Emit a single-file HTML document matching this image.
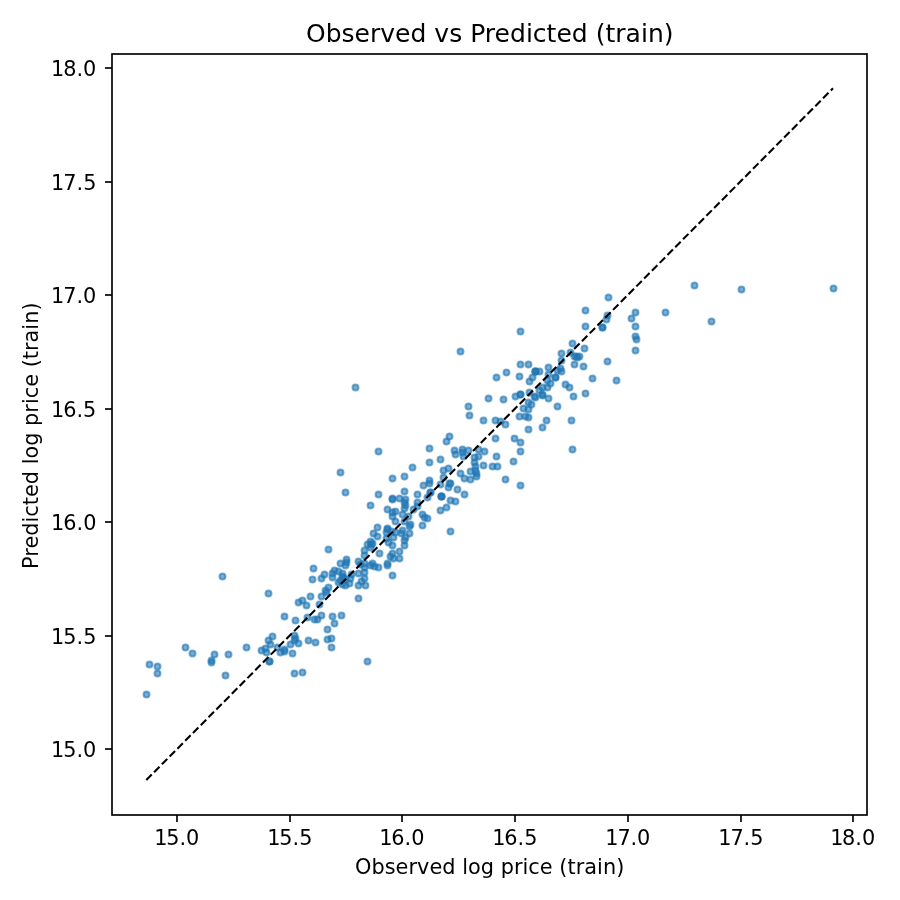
<!DOCTYPE html>
<html lang="en"><head><meta charset="utf-8"><title>Observed vs Predicted (train)</title>
<style>html,body{margin:0;padding:0;background:#fff;}body{width:900px;height:900px;overflow:hidden;}svg{display:block;}text{font-family:"DejaVu Sans","Liberation Sans",sans-serif;fill:#000;}.t{font-size:20.8333px;}.pt circle{fill:#1f77b4;fill-opacity:.6;stroke:#1f77b4;stroke-opacity:.6;stroke-width:2.083;}</style></head><body>
<svg width="900" height="900" viewBox="0 0 900 900">
<rect width="900" height="900" fill="#fff"/>
<g class="pt">
<circle cx="146.5" cy="694.5" r="2.946"/>
<circle cx="149.5" cy="664.5" r="2.946"/>
<circle cx="157.5" cy="666.5" r="2.946"/>
<circle cx="157.5" cy="673.5" r="2.946"/>
<circle cx="185.5" cy="647.5" r="2.946"/>
<circle cx="192.5" cy="653.5" r="2.946"/>
<circle cx="214.5" cy="654.5" r="2.946"/>
<circle cx="211.5" cy="660.5" r="2.946"/>
<circle cx="211.5" cy="662.5" r="2.946"/>
<circle cx="228.5" cy="654.5" r="2.946"/>
<circle cx="225.5" cy="675.5" r="2.946"/>
<circle cx="246.5" cy="647.5" r="2.946"/>
<circle cx="272.5" cy="636.5" r="2.946"/>
<circle cx="268.5" cy="640.5" r="2.946"/>
<circle cx="270.5" cy="644.5" r="2.946"/>
<circle cx="265.5" cy="648.5" r="2.946"/>
<circle cx="261.5" cy="650.5" r="2.946"/>
<circle cx="266.5" cy="652.5" r="2.946"/>
<circle cx="277.5" cy="647.5" r="2.946"/>
<circle cx="280.5" cy="652.5" r="2.946"/>
<circle cx="284.5" cy="649.5" r="2.946"/>
<circle cx="284.5" cy="651.5" r="2.946"/>
<circle cx="269.5" cy="661.5" r="2.946"/>
<circle cx="269.5" cy="661.5" r="2.946"/>
<circle cx="290.5" cy="644.5" r="2.946"/>
<circle cx="292.5" cy="653.5" r="2.946"/>
<circle cx="294.5" cy="635.5" r="2.946"/>
<circle cx="295.5" cy="638.5" r="2.946"/>
<circle cx="294.5" cy="640.5" r="2.946"/>
<circle cx="298.5" cy="643.5" r="2.946"/>
<circle cx="308.5" cy="640.5" r="2.946"/>
<circle cx="315.5" cy="642.5" r="2.946"/>
<circle cx="294.5" cy="673.5" r="2.946"/>
<circle cx="302.5" cy="672.5" r="2.946"/>
<circle cx="284.5" cy="616.5" r="2.946"/>
<circle cx="295.5" cy="620.5" r="2.946"/>
<circle cx="307.5" cy="617.5" r="2.946"/>
<circle cx="314.5" cy="619.5" r="2.946"/>
<circle cx="317.5" cy="619.5" r="2.946"/>
<circle cx="321.5" cy="615.5" r="2.946"/>
<circle cx="327.5" cy="629.5" r="2.946"/>
<circle cx="327.5" cy="639.5" r="2.946"/>
<circle cx="331.5" cy="647.5" r="2.946"/>
<circle cx="298.5" cy="602.5" r="2.946"/>
<circle cx="302.5" cy="600.5" r="2.946"/>
<circle cx="306.5" cy="605.5" r="2.946"/>
<circle cx="319.5" cy="604.5" r="2.946"/>
<circle cx="334.5" cy="623.5" r="2.946"/>
<circle cx="331.5" cy="638.5" r="2.946"/>
<circle cx="328.5" cy="549.5" r="2.946"/>
<circle cx="313.5" cy="568.5" r="2.946"/>
<circle cx="312.5" cy="579.5" r="2.946"/>
<circle cx="321.5" cy="578.5" r="2.946"/>
<circle cx="324.5" cy="574.5" r="2.946"/>
<circle cx="310.5" cy="596.5" r="2.946"/>
<circle cx="321.5" cy="596.5" r="2.946"/>
<circle cx="325.5" cy="590.5" r="2.946"/>
<circle cx="328.5" cy="587.5" r="2.946"/>
<circle cx="326.5" cy="592.5" r="2.946"/>
<circle cx="332.5" cy="616.5" r="2.946"/>
<circle cx="341.5" cy="615.5" r="2.946"/>
<circle cx="358.5" cy="598.5" r="2.946"/>
<circle cx="340.5" cy="563.5" r="2.946"/>
<circle cx="346.5" cy="559.5" r="2.946"/>
<circle cx="346.5" cy="562.5" r="2.946"/>
<circle cx="345.5" cy="565.5" r="2.946"/>
<circle cx="334.5" cy="570.5" r="2.946"/>
<circle cx="332.5" cy="573.5" r="2.946"/>
<circle cx="332.5" cy="577.5" r="2.946"/>
<circle cx="338.5" cy="571.5" r="2.946"/>
<circle cx="342.5" cy="573.5" r="2.946"/>
<circle cx="340.5" cy="580.5" r="2.946"/>
<circle cx="338.5" cy="582.5" r="2.946"/>
<circle cx="343.5" cy="577.5" r="2.946"/>
<circle cx="345.5" cy="585.5" r="2.946"/>
<circle cx="349.5" cy="583.5" r="2.946"/>
<circle cx="350.5" cy="578.5" r="2.946"/>
<circle cx="351.5" cy="574.5" r="2.946"/>
<circle cx="342.5" cy="584.5" r="2.946"/>
<circle cx="358.5" cy="573.5" r="2.946"/>
<circle cx="364.5" cy="572.5" r="2.946"/>
<circle cx="364.5" cy="578.5" r="2.946"/>
<circle cx="361.5" cy="581.5" r="2.946"/>
<circle cx="358.5" cy="585.5" r="2.946"/>
<circle cx="365.5" cy="585.5" r="2.946"/>
<circle cx="358.5" cy="561.5" r="2.946"/>
<circle cx="360.5" cy="564.5" r="2.946"/>
<circle cx="364.5" cy="567.5" r="2.946"/>
<circle cx="364.5" cy="563.5" r="2.946"/>
<circle cx="372.5" cy="563.5" r="2.946"/>
<circle cx="374.5" cy="566.5" r="2.946"/>
<circle cx="378.5" cy="567.5" r="2.946"/>
<circle cx="370.5" cy="565.5" r="2.946"/>
<circle cx="364.5" cy="550.5" r="2.946"/>
<circle cx="364.5" cy="555.5" r="2.946"/>
<circle cx="379.5" cy="553.5" r="2.946"/>
<circle cx="367.5" cy="544.5" r="2.946"/>
<circle cx="370.5" cy="541.5" r="2.946"/>
<circle cx="371.5" cy="544.5" r="2.946"/>
<circle cx="370.5" cy="547.5" r="2.946"/>
<circle cx="370.5" cy="505.5" r="2.946"/>
<circle cx="378.5" cy="494.5" r="2.946"/>
<circle cx="392.5" cy="478.5" r="2.946"/>
<circle cx="404.5" cy="476.5" r="2.946"/>
<circle cx="412.5" cy="467.5" r="2.946"/>
<circle cx="429.5" cy="462.5" r="2.946"/>
<circle cx="440.5" cy="459.5" r="2.946"/>
<circle cx="404.5" cy="491.5" r="2.946"/>
<circle cx="417.5" cy="494.5" r="2.946"/>
<circle cx="423.5" cy="485.5" r="2.946"/>
<circle cx="429.5" cy="480.5" r="2.946"/>
<circle cx="429.5" cy="483.5" r="2.946"/>
<circle cx="392.5" cy="498.5" r="2.946"/>
<circle cx="392.5" cy="499.5" r="2.946"/>
<circle cx="399.5" cy="498.5" r="2.946"/>
<circle cx="405.5" cy="499.5" r="2.946"/>
<circle cx="404.5" cy="502.5" r="2.946"/>
<circle cx="405.5" cy="505.5" r="2.946"/>
<circle cx="404.5" cy="508.5" r="2.946"/>
<circle cx="387.5" cy="509.5" r="2.946"/>
<circle cx="392.5" cy="512.5" r="2.946"/>
<circle cx="395.5" cy="511.5" r="2.946"/>
<circle cx="392.5" cy="516.5" r="2.946"/>
<circle cx="395.5" cy="521.5" r="2.946"/>
<circle cx="402.5" cy="514.5" r="2.946"/>
<circle cx="408.5" cy="516.5" r="2.946"/>
<circle cx="404.5" cy="521.5" r="2.946"/>
<circle cx="417.5" cy="502.5" r="2.946"/>
<circle cx="417.5" cy="506.5" r="2.946"/>
<circle cx="413.5" cy="509.5" r="2.946"/>
<circle cx="430.5" cy="492.5" r="2.946"/>
<circle cx="427.5" cy="497.5" r="2.946"/>
<circle cx="441.5" cy="496.5" r="2.946"/>
<circle cx="441.5" cy="496.5" r="2.946"/>
<circle cx="422.5" cy="514.5" r="2.946"/>
<circle cx="424.5" cy="517.5" r="2.946"/>
<circle cx="427.5" cy="518.5" r="2.946"/>
<circle cx="422.5" cy="525.5" r="2.946"/>
<circle cx="410.5" cy="524.5" r="2.946"/>
<circle cx="409.5" cy="526.5" r="2.946"/>
<circle cx="440.5" cy="510.5" r="2.946"/>
<circle cx="446.5" cy="507.5" r="2.946"/>
<circle cx="450.5" cy="500.5" r="2.946"/>
<circle cx="450.5" cy="531.5" r="2.946"/>
<circle cx="377.5" cy="527.5" r="2.946"/>
<circle cx="373.5" cy="533.5" r="2.946"/>
<circle cx="377.5" cy="536.5" r="2.946"/>
<circle cx="387.5" cy="528.5" r="2.946"/>
<circle cx="387.5" cy="529.5" r="2.946"/>
<circle cx="386.5" cy="532.5" r="2.946"/>
<circle cx="391.5" cy="531.5" r="2.946"/>
<circle cx="395.5" cy="532.5" r="2.946"/>
<circle cx="402.5" cy="530.5" r="2.946"/>
<circle cx="401.5" cy="533.5" r="2.946"/>
<circle cx="409.5" cy="533.5" r="2.946"/>
<circle cx="405.5" cy="537.5" r="2.946"/>
<circle cx="404.5" cy="540.5" r="2.946"/>
<circle cx="404.5" cy="545.5" r="2.946"/>
<circle cx="386.5" cy="538.5" r="2.946"/>
<circle cx="388.5" cy="542.5" r="2.946"/>
<circle cx="392.5" cy="545.5" r="2.946"/>
<circle cx="393.5" cy="537.5" r="2.946"/>
<circle cx="399.5" cy="551.5" r="2.946"/>
<circle cx="443.5" cy="470.5" r="2.946"/>
<circle cx="448.5" cy="468.5" r="2.946"/>
<circle cx="443.5" cy="477.5" r="2.946"/>
<circle cx="440.5" cy="484.5" r="2.946"/>
<circle cx="448.5" cy="487.5" r="2.946"/>
<circle cx="449.5" cy="483.5" r="2.946"/>
<circle cx="450.5" cy="483.5" r="2.946"/>
<circle cx="387.5" cy="563.5" r="2.946"/>
<circle cx="387.5" cy="565.5" r="2.946"/>
<circle cx="392.5" cy="575.5" r="2.946"/>
<circle cx="392.5" cy="553.5" r="2.946"/>
<circle cx="390.5" cy="556.5" r="2.946"/>
<circle cx="393.5" cy="558.5" r="2.946"/>
<circle cx="399.5" cy="558.5" r="2.946"/>
<circle cx="468.5" cy="406.5" r="2.946"/>
<circle cx="469.5" cy="415.5" r="2.946"/>
<circle cx="483.5" cy="420.5" r="2.946"/>
<circle cx="495.5" cy="420.5" r="2.946"/>
<circle cx="500.5" cy="421.5" r="2.946"/>
<circle cx="505.5" cy="424.5" r="2.946"/>
<circle cx="488.5" cy="398.5" r="2.946"/>
<circle cx="503.5" cy="399.5" r="2.946"/>
<circle cx="495.5" cy="438.5" r="2.946"/>
<circle cx="514.5" cy="438.5" r="2.946"/>
<circle cx="520.5" cy="442.5" r="2.946"/>
<circle cx="520.5" cy="451.5" r="2.946"/>
<circle cx="513.5" cy="461.5" r="2.946"/>
<circle cx="496.5" cy="456.5" r="2.946"/>
<circle cx="492.5" cy="466.5" r="2.946"/>
<circle cx="497.5" cy="466.5" r="2.946"/>
<circle cx="483.5" cy="465.5" r="2.946"/>
<circle cx="505.5" cy="479.5" r="2.946"/>
<circle cx="520.5" cy="485.5" r="2.946"/>
<circle cx="449.5" cy="436.5" r="2.946"/>
<circle cx="446.5" cy="441.5" r="2.946"/>
<circle cx="454.5" cy="450.5" r="2.946"/>
<circle cx="455.5" cy="454.5" r="2.946"/>
<circle cx="462.5" cy="449.5" r="2.946"/>
<circle cx="462.5" cy="452.5" r="2.946"/>
<circle cx="463.5" cy="456.5" r="2.946"/>
<circle cx="468.5" cy="450.5" r="2.946"/>
<circle cx="478.5" cy="449.5" r="2.946"/>
<circle cx="484.5" cy="451.5" r="2.946"/>
<circle cx="478.5" cy="456.5" r="2.946"/>
<circle cx="474.5" cy="457.5" r="2.946"/>
<circle cx="474.5" cy="462.5" r="2.946"/>
<circle cx="475.5" cy="466.5" r="2.946"/>
<circle cx="475.5" cy="470.5" r="2.946"/>
<circle cx="476.5" cy="473.5" r="2.946"/>
<circle cx="476.5" cy="476.5" r="2.946"/>
<circle cx="470.5" cy="471.5" r="2.946"/>
<circle cx="460.5" cy="473.5" r="2.946"/>
<circle cx="464.5" cy="478.5" r="2.946"/>
<circle cx="470.5" cy="479.5" r="2.946"/>
<circle cx="457.5" cy="489.5" r="2.946"/>
<circle cx="464.5" cy="494.5" r="2.946"/>
<circle cx="455.5" cy="501.5" r="2.946"/>
<circle cx="429.5" cy="448.5" r="2.946"/>
<circle cx="520.5" cy="331.5" r="2.946"/>
<circle cx="520.5" cy="364.5" r="2.946"/>
<circle cx="528.5" cy="364.5" r="2.946"/>
<circle cx="519.5" cy="376.5" r="2.946"/>
<circle cx="535.5" cy="371.5" r="2.946"/>
<circle cx="535.5" cy="371.5" r="2.946"/>
<circle cx="535.5" cy="371.5" r="2.946"/>
<circle cx="539.5" cy="371.5" r="2.946"/>
<circle cx="532.5" cy="377.5" r="2.946"/>
<circle cx="529.5" cy="381.5" r="2.946"/>
<circle cx="548.5" cy="367.5" r="2.946"/>
<circle cx="561.5" cy="353.5" r="2.946"/>
<circle cx="561.5" cy="360.5" r="2.946"/>
<circle cx="572.5" cy="343.5" r="2.946"/>
<circle cx="584.5" cy="348.5" r="2.946"/>
<circle cx="570.5" cy="352.5" r="2.946"/>
<circle cx="574.5" cy="356.5" r="2.946"/>
<circle cx="576.5" cy="356.5" r="2.946"/>
<circle cx="577.5" cy="357.5" r="2.946"/>
<circle cx="579.5" cy="356.5" r="2.946"/>
<circle cx="574.5" cy="364.5" r="2.946"/>
<circle cx="583.5" cy="366.5" r="2.946"/>
<circle cx="592.5" cy="378.5" r="2.946"/>
<circle cx="585.5" cy="393.5" r="2.946"/>
<circle cx="573.5" cy="396.5" r="2.946"/>
<circle cx="565.5" cy="384.5" r="2.946"/>
<circle cx="569.5" cy="387.5" r="2.946"/>
<circle cx="557.5" cy="406.5" r="2.946"/>
<circle cx="560.5" cy="368.5" r="2.946"/>
<circle cx="561.5" cy="371.5" r="2.946"/>
<circle cx="557.5" cy="370.5" r="2.946"/>
<circle cx="555.5" cy="377.5" r="2.946"/>
<circle cx="555.5" cy="377.5" r="2.946"/>
<circle cx="548.5" cy="374.5" r="2.946"/>
<circle cx="547.5" cy="380.5" r="2.946"/>
<circle cx="550.5" cy="383.5" r="2.946"/>
<circle cx="547.5" cy="387.5" r="2.946"/>
<circle cx="542.5" cy="387.5" r="2.946"/>
<circle cx="539.5" cy="390.5" r="2.946"/>
<circle cx="542.5" cy="395.5" r="2.946"/>
<circle cx="548.5" cy="398.5" r="2.946"/>
<circle cx="535.5" cy="397.5" r="2.946"/>
<circle cx="529.5" cy="392.5" r="2.946"/>
<circle cx="520.5" cy="394.5" r="2.946"/>
<circle cx="520.5" cy="394.5" r="2.946"/>
<circle cx="515.5" cy="396.5" r="2.946"/>
<circle cx="528.5" cy="402.5" r="2.946"/>
<circle cx="531.5" cy="404.5" r="2.946"/>
<circle cx="523.5" cy="408.5" r="2.946"/>
<circle cx="528.5" cy="409.5" r="2.946"/>
<circle cx="519.5" cy="416.5" r="2.946"/>
<circle cx="525.5" cy="416.5" r="2.946"/>
<circle cx="528.5" cy="417.5" r="2.946"/>
<circle cx="546.5" cy="420.5" r="2.946"/>
<circle cx="571.5" cy="420.5" r="2.946"/>
<circle cx="528.5" cy="429.5" r="2.946"/>
<circle cx="542.5" cy="427.5" r="2.946"/>
<circle cx="572.5" cy="449.5" r="2.946"/>
<circle cx="608.5" cy="297.5" r="2.946"/>
<circle cx="585.5" cy="310.5" r="2.946"/>
<circle cx="585.5" cy="326.5" r="2.946"/>
<circle cx="607.5" cy="315.5" r="2.946"/>
<circle cx="606.5" cy="319.5" r="2.946"/>
<circle cx="602.5" cy="327.5" r="2.946"/>
<circle cx="602.5" cy="327.5" r="2.946"/>
<circle cx="635.5" cy="312.5" r="2.946"/>
<circle cx="631.5" cy="318.5" r="2.946"/>
<circle cx="635.5" cy="326.5" r="2.946"/>
<circle cx="635.5" cy="336.5" r="2.946"/>
<circle cx="636.5" cy="339.5" r="2.946"/>
<circle cx="635.5" cy="350.5" r="2.946"/>
<circle cx="665.5" cy="312.5" r="2.946"/>
<circle cx="607.5" cy="361.5" r="2.946"/>
<circle cx="616.5" cy="380.5" r="2.946"/>
<circle cx="342.5" cy="576.5" r="2.946"/>
<circle cx="345.5" cy="579.5" r="2.946"/>
<circle cx="441.5" cy="496.5" r="2.946"/>
<circle cx="430.5" cy="492.5" r="2.946"/>
<circle cx="506.5" cy="372.5" r="2.946"/>
<circle cx="534.5" cy="396.5" r="2.946"/>
<circle cx="542.5" cy="394.5" r="2.946"/>
<circle cx="372.5" cy="543.5" r="2.946"/>
<circle cx="694.5" cy="285.5" r="2.946"/>
<circle cx="741.5" cy="289.5" r="2.946"/>
<circle cx="833.5" cy="288.5" r="2.946"/>
<circle cx="711.5" cy="321.5" r="2.946"/>
<circle cx="222.5" cy="576.5" r="2.946"/>
<circle cx="268.5" cy="593.5" r="2.946"/>
<circle cx="355.5" cy="387.5" r="2.946"/>
<circle cx="460.5" cy="351.5" r="2.946"/>
<circle cx="378.5" cy="451.5" r="2.946"/>
<circle cx="340.5" cy="472.5" r="2.946"/>
<circle cx="345.5" cy="492.5" r="2.946"/>
<circle cx="496.5" cy="377.5" r="2.946"/>
<circle cx="367.5" cy="661.5" r="2.946"/>
</g>
<line x1="146.3" y1="780" x2="833" y2="88.3" stroke="#000" stroke-width="2.083" stroke-dasharray="7.708 3.333"/>
<rect x="112" y="54" width="755" height="761" fill="none" stroke="#000" stroke-width="1.667"/>
<g stroke="#000" stroke-width="1.667">
<line x1="177" y1="815" x2="177" y2="822"/>
<line x1="290" y1="815" x2="290" y2="822"/>
<line x1="402" y1="815" x2="402" y2="822"/>
<line x1="515" y1="815" x2="515" y2="822"/>
<line x1="628" y1="815" x2="628" y2="822"/>
<line x1="741" y1="815" x2="741" y2="822"/>
<line x1="853" y1="815" x2="853" y2="822"/>
<line x1="112" y1="749" x2="105" y2="749"/>
<line x1="112" y1="636" x2="105" y2="636"/>
<line x1="112" y1="522" x2="105" y2="522"/>
<line x1="112" y1="409" x2="105" y2="409"/>
<line x1="112" y1="295" x2="105" y2="295"/>
<line x1="112" y1="182" x2="105" y2="182"/>
<line x1="112" y1="68" x2="105" y2="68"/>
</g>
<g class="t">
<text x="154.14 166.19 179.47 186.06" y="844.9">15.0</text>
<text x="267.13 279.20 292.48 299.17" y="844.9">15.5</text>
<text x="379.13 391.18 404.53 411.19" y="844.9">16.0</text>
<text x="492.13 504.18 517.52 524.31" y="844.9">16.5</text>
<text x="605.14 617.41 630.47 637.05" y="844.9">17.0</text>
<text x="718.14 730.41 743.47 750.17" y="844.9">17.5</text>
<text x="830.14 842.11 855.37 861.95" y="844.9">18.0</text>
<text x="50.92 63.25 76.53 83.12" y="756.80">15.0</text>
<text x="50.92 63.25 76.53 83.22" y="643.80">15.5</text>
<text x="50.92 63.23 76.58 83.25" y="529.80">16.0</text>
<text x="50.92 63.23 76.58 83.11" y="416.80">16.5</text>
<text x="50.92 63.21 76.53 83.12" y="302.80">17.0</text>
<text x="50.92 63.21 76.53 83.22" y="189.80">17.5</text>
<text x="50.92 63.16 76.43 83.00" y="75.80">18.0</text>
</g>
<text class="t" x="489.65" y="874.2" text-anchor="middle" letter-spacing="0.035">Observed log price (train)</text>
<text class="t" transform="translate(38.2 435.7) rotate(-90)" text-anchor="middle" letter-spacing="0.02">Predicted log price (train)</text>
<text x="489.77" y="41.5" font-size="25px" text-anchor="middle" letter-spacing="0.02">Observed vs Predicted (train)</text>
</svg></body></html>
